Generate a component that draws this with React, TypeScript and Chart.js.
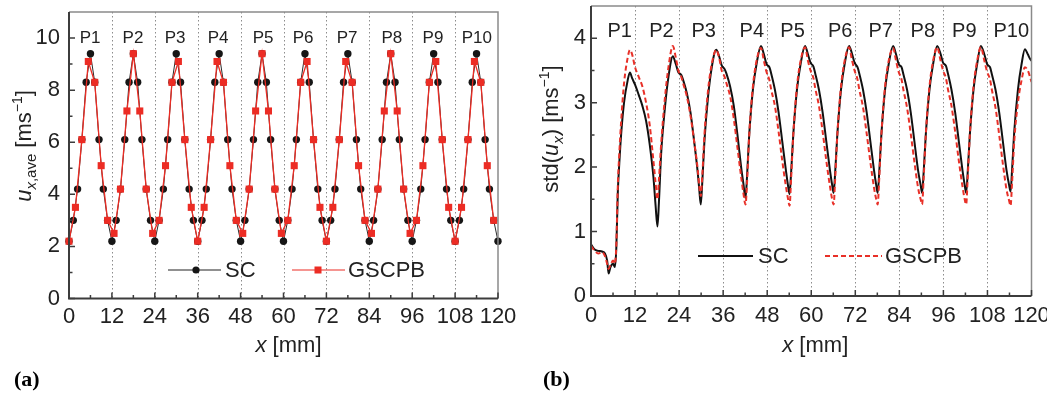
import React, { useEffect, useRef } from "react";
import { Chart, registerables } from "chart.js";
Chart.register(...registerables);

const FONT = '"Liberation Sans", Arial, Helvetica, sans-serif';
const SERIF = '"Liberation Serif", "Times New Roman", serif';
const RED = "rgb(236,44,36)";

// ---------- shared axis data ----------
const xTicks = [0, 12, 24, 36, 48, 60, 72, 84, 96, 108, 120];
const xMinorTicks = [6, 18, 30, 42, 54, 66, 78, 90, 102, 114];
const dividers = [12, 24, 36, 48, 60, 72, 84, 96, 108];
const peakLabels = ["P1", "P2", "P3", "P4", "P5", "P6", "P7", "P8", "P9", "P10"];

// ---------- panel (a) ----------
const yTicksA = [0, 2, 4, 6, 8, 10];
const yMinorA = [1, 3, 5, 7, 9];
const peakXA = [5.9, 17.9, 29.7, 41.7, 54.3, 65.5, 77.8, 90.3, 101.8, 114.1];
const peakYA = 10;

const scXA = [
  0, 1.2, 2.4, 3.6, 4.8, 6, 7.2, 8.4, 9.6, 10.8, 12, 13.2, 14.4, 15.6, 16.8, 18, 19.2, 20.4, 21.6, 22.8,
  24, 25.2, 26.4, 27.6, 28.8, 30, 31.2, 32.4, 33.6, 34.8, 36, 37.2, 38.4, 39.6, 40.8, 42, 43.2, 44.4, 45.6, 46.8,
  48, 49.2, 50.4, 51.6, 52.8, 54, 55.2, 56.4, 57.6, 58.8, 60, 61.2, 62.4, 63.6, 64.8, 66, 67.2, 68.4, 69.6, 70.8,
  72, 73.2, 74.4, 75.6, 76.8, 78, 79.2, 80.4, 81.6, 82.8, 84, 85.2, 86.4, 87.6, 88.8, 90, 91.2, 92.4, 93.6, 94.8,
  96, 97.2, 98.4, 99.6, 100.8, 102, 103.2, 104.4, 105.6, 106.8, 108, 109.2, 110.4, 111.6, 112.8, 114, 115.2, 116.4, 117.6, 118.8,
  120,
];
const scYA = [
  2.2, 3.0, 4.2, 6.1, 8.3, 9.4, 8.3, 6.1, 4.2, 3.0, 2.2, 3.0, 4.2, 6.1, 8.3, 9.4, 8.3, 6.1, 4.2, 3.0,
  2.2, 3.0, 4.2, 6.1, 8.3, 9.4, 8.3, 6.1, 4.2, 3.0, 2.2, 3.0, 4.2, 6.1, 8.3, 9.4, 8.3, 6.1, 4.2, 3.0,
  2.2, 3.0, 4.2, 6.1, 8.3, 9.4, 8.3, 6.1, 4.2, 3.0, 2.2, 3.0, 4.2, 6.1, 8.3, 9.4, 8.3, 6.1, 4.2, 3.0,
  2.2, 3.0, 4.2, 6.1, 8.3, 9.4, 8.3, 6.1, 4.2, 3.0, 2.2, 3.0, 4.2, 6.1, 8.3, 9.4, 8.3, 6.1, 4.2, 3.0,
  2.2, 3.0, 4.2, 6.1, 8.3, 9.4, 8.3, 6.1, 4.2, 3.0, 2.2, 3.0, 4.2, 6.1, 8.3, 9.4, 8.3, 6.1, 4.2, 3.0,
  2.2,
];
const gsXA = [
  0, 1.8, 3.6, 5.4, 7.2, 9, 10.8, 12.6, 14.4, 16.2, 18, 19.8, 21.6, 23.4, 25.2, 27, 28.8, 30.6, 32.4, 34.2,
  36, 37.8, 39.6, 41.4, 43.2, 45, 46.8, 48.6, 50.4, 52.2, 54, 55.8, 57.6, 59.4, 61.2, 63, 64.8, 66.6, 68.4, 70.2,
  72, 73.8, 75.6, 77.4, 79.2, 81, 82.8, 84.6, 86.4, 88.2, 90, 91.8, 93.6, 95.4, 97.2, 99, 100.8, 102.6, 104.4, 106.2,
  108, 109.8, 111.6, 113.4, 115.2, 117, 118.8,
];
const gsYA = [
  2.2, 3.5, 6.1, 9.1, 8.3, 5.1, 3.0, 2.5, 4.2, 7.2, 9.4, 7.2, 4.2, 2.5, 3.0, 5.1, 8.3, 9.1, 6.1, 3.5,
  2.2, 3.5, 6.1, 9.1, 8.3, 5.1, 3.0, 2.5, 4.2, 7.2, 9.4, 7.2, 4.2, 2.5, 3.0, 5.1, 8.3, 9.1, 6.1, 3.5,
  2.2, 3.5, 6.1, 9.1, 8.3, 5.1, 3.0, 2.5, 4.2, 7.2, 9.4, 7.2, 4.2, 2.5, 3.0, 5.1, 8.3, 9.1, 6.1, 3.5,
  2.2, 3.5, 6.1, 9.1, 8.3, 5.1, 3.0,
];

// ---------- panel (b) ----------
const yTicksB = [0, 1, 2, 3, 4];
const yMinorB = [0.5, 1.5, 2.5, 3.5];
const peakXB = [7.8, 19.2, 30.7, 43.8, 54.9, 67.9, 78.9, 90.4, 101.7, 114.5];
const peakYB = 4.1;

const xB = [
  0, 1, 2, 3, 3.8, 4.4, 4.8, 5.3, 6, 6.5, 6.9, 7.3, 7.7, 8.2, 9, 10, 10.6, 11.2, 12, 13, 14, 15, 16, 17, 17.6, 18.1,
  18.5, 19.1, 20.1, 21.1, 22.3, 23.1, 23.8, 24.6, 25.1, 26.1, 27.1, 28.1, 29.1, 29.5, 29.9,
  30.3, 30.9, 31.9, 32.9, 34.1, 34.9, 35.6, 36.4, 36.9, 37.9, 38.9, 39.9, 40.9, 41.5, 42.1,
  42.5, 43.1, 44.1, 45.1, 46.3, 47.1, 47.8, 48.6, 49.1, 50.1, 51.1, 52.1, 53.1, 53.7, 54.1,
  54.5, 55.1, 56.1, 57.1, 58.3, 59.1, 59.8, 60.6, 61.1, 62.1, 63.1, 64.1, 65.1, 65.7, 66.1,
  66.5, 67.1, 68.1, 69.1, 70.3, 71.1, 71.8, 72.6, 73.1, 74.1, 75.1, 76.1, 77.1, 77.7, 78.1,
  78.5, 79.1, 80.1, 81.1, 82.3, 83.1, 83.8, 84.6, 85.1, 86.1, 87.1, 88.1, 89.1, 89.8, 90.2,
  90.6, 91.2, 92.2, 93.2, 94.3, 95.2, 95.9, 96.7, 97.2, 98.2, 99.2, 100.2, 101.2, 101.8, 102.2,
  102.6, 103.2, 104.2, 105.2, 106.2, 107.2, 107.9, 108.7, 109.2, 110.2, 111.2, 112.2, 113.2, 113.9, 114.3,
  114.7, 115.3, 116.3, 117.3, 118.2, 119.0, 119.6, 120,
];
const scB = [
  0.8, 0.72, 0.7, 0.69, 0.66, 0.55, 0.35, 0.45, 0.5, 0.45, 0.75, 1.6, 2.05, 2.5, 3.0, 3.35, 3.47, 3.38, 3.28, 3.12, 2.95, 2.72, 2.35, 1.85, 1.4, 1.08,
  1.45, 2.2, 2.9, 3.4, 3.72, 3.6, 3.47, 3.43, 3.35, 3.15, 2.85, 2.4, 1.9, 1.65, 1.42,
  1.75, 2.4, 3.1, 3.55, 3.82, 3.72, 3.58, 3.52, 3.45, 3.25, 2.95, 2.5, 2.0, 1.75, 1.52,
  1.85, 2.5, 3.2, 3.6, 3.88, 3.75, 3.6, 3.55, 3.45, 3.2, 2.85, 2.4, 1.95, 1.7, 1.58,
  1.9, 2.5, 3.2, 3.6, 3.88, 3.75, 3.62, 3.56, 3.45, 3.2, 2.85, 2.4, 1.95, 1.72, 1.6,
  1.9, 2.5, 3.2, 3.6, 3.88, 3.76, 3.62, 3.55, 3.45, 3.2, 2.85, 2.4, 1.95, 1.72, 1.6,
  1.9, 2.5, 3.2, 3.6, 3.88, 3.75, 3.6, 3.55, 3.44, 3.2, 2.85, 2.4, 1.95, 1.72, 1.6,
  1.9, 2.5, 3.2, 3.6, 3.88, 3.76, 3.62, 3.57, 3.46, 3.2, 2.85, 2.4, 1.95, 1.72, 1.6,
  1.9, 2.5, 3.2, 3.6, 3.88, 3.74, 3.6, 3.55, 3.44, 3.2, 2.85, 2.4, 1.95, 1.72, 1.62,
  1.95, 2.55, 3.2, 3.6, 3.83, 3.75, 3.68, 3.65,
];
const gsB = [
  0.78, 0.7, 0.66, 0.68, 0.62, 0.5, 0.42, 0.48, 0.55, 0.5, 0.8, 1.7, 2.2, 2.7, 3.3, 3.7, 3.82, 3.75, 3.55, 3.4, 3.25, 3.0, 2.65, 2.1, 1.75, 1.5,
  1.8, 2.35, 3.05, 3.55, 3.88, 3.7, 3.5, 3.4, 3.3, 3.1, 2.8, 2.4, 1.95, 1.7, 1.55,
  1.85, 2.5, 3.2, 3.6, 3.82, 3.7, 3.5, 3.4, 3.3, 3.1, 2.75, 2.3, 1.85, 1.6, 1.42,
  1.75, 2.5, 3.25, 3.65, 3.85, 3.65, 3.48, 3.35, 3.2, 2.95, 2.55, 2.1, 1.7, 1.5, 1.4,
  1.8, 2.5, 3.25, 3.65, 3.86, 3.65, 3.5, 3.38, 3.22, 2.95, 2.55, 2.1, 1.7, 1.5, 1.42,
  1.8, 2.5, 3.25, 3.65, 3.86, 3.66, 3.5, 3.36, 3.2, 2.93, 2.52, 2.08, 1.68, 1.5, 1.42,
  1.8, 2.5, 3.25, 3.65, 3.85, 3.65, 3.48, 3.36, 3.2, 2.92, 2.52, 2.08, 1.68, 1.5, 1.42,
  1.8, 2.5, 3.25, 3.65, 3.86, 3.66, 3.5, 3.38, 3.22, 2.95, 2.55, 2.1, 1.7, 1.5, 1.42,
  1.8, 2.5, 3.25, 3.65, 3.86, 3.64, 3.48, 3.36, 3.2, 2.92, 2.5, 2.05, 1.65, 1.48, 1.4,
  1.75, 2.4, 3.0, 3.35, 3.55, 3.5, 3.4, 3.32,
];

type Seg = { t: string; size: number; italic?: boolean; shift?: number };

function segsWidth(ctx: CanvasRenderingContext2D, segs: Seg[]) {
  let w = 0;
  for (const s of segs) {
    ctx.font = `${s.italic ? "italic " : ""}${s.size}px ${FONT}`;
    w += ctx.measureText(s.t).width;
  }
  return w;
}
function drawSegs(ctx: CanvasRenderingContext2D, segs: Seg[], x: number, y: number) {
  let cx = x;
  ctx.textBaseline = "alphabetic";
  ctx.textAlign = "left";
  for (const s of segs) {
    ctx.font = `${s.italic ? "italic " : ""}${s.size}px ${FONT}`;
    ctx.fillText(s.t, cx, y + (s.shift || 0));
    cx += ctx.measureText(s.t).width;
  }
}

type Spec = {
  key: string;
  yTicks: number[];
  yMinor: number[];
  peakX: number[];
  peakY: number;
  peakFont: number;
  yTitle: Seg[];
  yTitleX: number;
  yTitleY: number;
  xTitleDX: number;
  xTitleDY: number;
  panel: string;
  panelX: number;
  legend: (ctx: CanvasRenderingContext2D, ca: any) => void;
};

function makePlugin(spec: Spec) {
  return {
    id: "decor" + spec.key,
    beforeDatasetsDraw(chart: any) {
      const { ctx, chartArea: ca, scales } = chart;
      ctx.save();
      ctx.strokeStyle = "#8c8c8c";
      ctx.lineWidth = 1;
      ctx.setLineDash([1.5, 2.5]);
      for (const d of dividers) {
        const px = Math.round(scales.x.getPixelForValue(d)) + 0.5;
        ctx.beginPath();
        ctx.moveTo(px, ca.top);
        ctx.lineTo(px, ca.bottom);
        ctx.stroke();
      }
      ctx.restore();
    },
    afterDatasetsDraw(chart: any) {
      const { ctx, chartArea: ca, scales } = chart;
      const xs = scales.x, ys = scales.y;
      ctx.save();
      ctx.strokeStyle = "#8a8a8a";
      ctx.lineWidth = 1.5;
      ctx.beginPath();
      ctx.moveTo(ca.left, ca.top);
      ctx.lineTo(ca.right, ca.top);
      ctx.lineTo(ca.right, ca.bottom);
      ctx.stroke();
      ctx.strokeStyle = "#3c3c3c";
      ctx.lineWidth = 2;
      ctx.beginPath();
      ctx.moveTo(ca.left, ca.top);
      ctx.lineTo(ca.left, ca.bottom);
      ctx.lineTo(ca.right, ca.bottom);
      ctx.stroke();
      ctx.lineWidth = 1.5;
      ctx.beginPath();
      for (const v of spec.yTicks) {
        const py = ys.getPixelForValue(v);
        ctx.moveTo(ca.left, py);
        ctx.lineTo(ca.left + 6, py);
      }
      for (const v of spec.yMinor) {
        const py = ys.getPixelForValue(v);
        ctx.moveTo(ca.left, py);
        ctx.lineTo(ca.left + 3.5, py);
      }
      for (const v of xTicks) {
        const px = xs.getPixelForValue(v);
        ctx.moveTo(px, ca.bottom);
        ctx.lineTo(px, ca.bottom - 6);
      }
      for (const v of xMinorTicks) {
        const px = xs.getPixelForValue(v);
        ctx.moveTo(px, ca.bottom);
        ctx.lineTo(px, ca.bottom - 3.5);
      }
      ctx.stroke();
      ctx.fillStyle = "#222";
      ctx.font = `${spec.peakFont}px ${FONT}`;
      ctx.textAlign = "center";
      ctx.textBaseline = "middle";
      spec.peakX.forEach((v, i) => {
        ctx.fillText(peakLabels[i], xs.getPixelForValue(v), ys.getPixelForValue(spec.peakY));
      });
      spec.legend(ctx, ca);
      ctx.fillStyle = "#222";
      const xt: Seg[] = [
        { t: "x", size: 22, italic: true },
        { t: " [mm]", size: 22 },
      ];
      const xw = segsWidth(ctx, xt);
      drawSegs(ctx, xt, (ca.left + ca.right) / 2 + spec.xTitleDX - xw / 2, ca.bottom + spec.xTitleDY);
      const yw = segsWidth(ctx, spec.yTitle);
      ctx.save();
      ctx.translate(ca.left - spec.yTitleX, spec.yTitleY);
      ctx.rotate(-Math.PI / 2);
      drawSegs(ctx, spec.yTitle, -yw / 2, 0);
      ctx.restore();
      ctx.fillStyle = "#000";
      ctx.font = `bold 22px ${SERIF}`;
      ctx.textAlign = "left";
      ctx.textBaseline = "alphabetic";
      ctx.fillText(spec.panel, spec.panelX, 386);
      ctx.restore();
    },
  };
}

function axisFont() {
  return { family: FONT, size: 22 };
}

function buildConfig(opts: {
  datasets: any[];
  yMax: number;
  yTicks: number[];
  padTop: number;
  padRight: number;
  yWidth: number;
  xHeight: number;
  yPad: number;
  xPad: number;
  plugin: any;
}) {
  return {
    type: "line",
    data: { datasets: opts.datasets },
    options: {
      responsive: false,
      animation: false,
      events: [],
      layout: { padding: { top: opts.padTop, right: opts.padRight, left: 0, bottom: 0 } },
      plugins: { legend: { display: false }, tooltip: { enabled: false } },
      scales: {
        x: {
          type: "linear",
          min: 0,
          max: 120,
          grid: { display: false, drawTicks: false },
          border: { display: false },
          afterBuildTicks: (s: any) => {
            s.ticks = xTicks.map((v) => ({ value: v }));
          },
          afterFit: (s: any) => {
            s.height = opts.xHeight;
            s.paddingLeft = 0;
            s.paddingRight = 0;
          },
          ticks: {
            autoSkip: false,
            maxRotation: 0,
            minRotation: 0,
            padding: opts.xPad,
            color: "#222",
            font: axisFont(),
            callback: (v: any) => String(v),
          },
        },
        y: {
          type: "linear",
          min: 0,
          max: opts.yMax,
          grid: { display: false, drawTicks: false },
          border: { display: false },
          afterBuildTicks: (s: any) => {
            s.ticks = opts.yTicks.map((v) => ({ value: v }));
          },
          afterFit: (s: any) => {
            s.width = opts.yWidth;
            s.paddingTop = 0;
            s.paddingBottom = 0;
          },
          ticks: {
            padding: opts.yPad,
            color: "#222",
            font: axisFont(),
            callback: (v: any) => String(v),
          },
        },
      },
    },
    plugins: [opts.plugin],
  };
}

function toPts(xs: number[], ys: number[]) {
  return xs.map((x, i) => ({ x, y: ys[i] }));
}

export default function App() {
  const refA = useRef<HTMLCanvasElement>(null);
  const refB = useRef<HTMLCanvasElement>(null);

  useEffect(() => {
    const specA: Spec = {
      key: "A",
      yTicks: yTicksA,
      yMinor: yMinorA,
      peakX: peakXA,
      peakY: peakYA,
      peakFont: 17,
      yTitle: [
        { t: "u", size: 22, italic: true },
        { t: "x", size: 15, italic: true, shift: 5 },
        { t: ",ave", size: 15, shift: 5 },
        { t: " [ms", size: 22 },
        { t: "\u22121", size: 14, shift: -9 },
        { t: "]", size: 22 },
      ],
      yTitleX: 38,
      yTitleY: 146,
      xTitleDX: 5,
      xTitleDY: 53.5,
      panel: "(a)",
      panelX: 14,
      legend: (ctx, ca) => {
        const y = ca.top + 258;
        ctx.strokeStyle = "#222";
        ctx.lineWidth = 1.2;
        ctx.beginPath();
        ctx.moveTo(ca.left + 99, y);
        ctx.lineTo(ca.left + 152, y);
        ctx.stroke();
        ctx.fillStyle = "#161616";
        ctx.beginPath();
        ctx.arc(ca.left + 127, y, 3.6, 0, Math.PI * 2);
        ctx.fill();
        ctx.strokeStyle = RED;
        ctx.beginPath();
        ctx.moveTo(ca.left + 223, y);
        ctx.lineTo(ca.left + 276, y);
        ctx.stroke();
        ctx.fillStyle = RED;
        ctx.fillRect(ca.left + 249 - 3.5, y - 3.5, 7, 7);
        ctx.fillStyle = "#222";
        ctx.font = `22px ${FONT}`;
        ctx.textAlign = "left";
        ctx.textBaseline = "middle";
        ctx.fillText("SC", ca.left + 156, y + 1);
        ctx.fillText("GSCPB", ca.left + 279, y + 1);
      },
    };
    const specB: Spec = {
      key: "B",
      yTicks: yTicksB,
      yMinor: yMinorB,
      peakX: peakXB,
      peakY: peakYB,
      peakFont: 20,
      yTitle: [
        { t: "std(", size: 22 },
        { t: "u", size: 22, italic: true },
        { t: "x", size: 15, italic: true, shift: 5 },
        { t: ") [ms", size: 22 },
        { t: "\u22121", size: 14, shift: -9 },
        { t: "]", size: 22 },
      ],
      yTitleX: 33,
      yTitleY: 129,
      xTitleDX: 4,
      xTitleDY: 56,
      panel: "(b)",
      panelX: 23,
      legend: (ctx, ca) => {
        const y = ca.top + 250;
        ctx.lineWidth = 2;
        ctx.strokeStyle = "#111";
        ctx.beginPath();
        ctx.moveTo(ca.left + 107, y);
        ctx.lineTo(ca.left + 162, y);
        ctx.stroke();
        ctx.strokeStyle = "rgb(232,48,40)";
        ctx.setLineDash([5, 3]);
        ctx.beginPath();
        ctx.moveTo(ca.left + 234, y);
        ctx.lineTo(ca.left + 291, y);
        ctx.stroke();
        ctx.setLineDash([]);
        ctx.fillStyle = "#222";
        ctx.font = `22px ${FONT}`;
        ctx.textAlign = "left";
        ctx.textBaseline = "middle";
        ctx.fillText("SC", ca.left + 167, y + 1);
        ctx.fillText("GSCPB", ca.left + 294, y + 1);
      },
    };

    const chartA = new Chart(
      refA.current as HTMLCanvasElement,
      buildConfig({
        datasets: [
          {
            label: "SC",
            data: toPts(scXA, scYA),
            borderColor: "#2a2a2a",
            borderWidth: 1,
            pointStyle: "circle",
            pointRadius: 3.7,
            pointBackgroundColor: "#161616",
            pointBorderColor: "#161616",
            pointBorderWidth: 0,
            clip: false,
            order: 2,
          },
          {
            label: "GSCPB",
            data: toPts(gsXA, gsYA),
            borderColor: RED,
            borderWidth: 1.3,
            pointStyle: "rect",
            pointRadius: 5,
            pointBackgroundColor: RED,
            pointBorderColor: RED,
            pointBorderWidth: 0,
            clip: false,
            order: 1,
          },
        ],
        yMax: 11,
        yTicks: yTicksA,
        padTop: 12,
        padRight: 22,
        yWidth: 69,
        xHeight: 97.5,
        yPad: 9,
        xPad: 5,
        plugin: makePlugin(specA),
      }) as any
    );

    const chartB = new Chart(
      refB.current as HTMLCanvasElement,
      buildConfig({
        datasets: [
          {
            label: "SC",
            data: toPts(xB, scB),
            borderColor: "#111",
            borderWidth: 2,
            pointRadius: 0,
            cubicInterpolationMode: "monotone",
            order: 2,
          },
          {
            label: "GSCPB",
            data: toPts(xB, gsB),
            borderColor: "rgb(232,48,40)",
            borderWidth: 2,
            borderDash: [5, 3],
            pointRadius: 0,
            cubicInterpolationMode: "monotone",
            order: 1,
          },
        ],
        yMax: 4.5,
        yTicks: yTicksB,
        padTop: 6,
        padRight: 15.5,
        yWidth: 71,
        xHeight: 100,
        yPad: 5,
        xPad: 7,
        plugin: makePlugin(specB),
      }) as any
    );

    return () => {
      chartA.destroy();
      chartB.destroy();
    };
  }, []);

  return (
    <div style={{ position: "absolute", left: 0, top: 0, width: 1047, height: 396, background: "#fff" }}>
      <canvas ref={refA} width={520} height={396} style={{ position: "absolute", left: 0, top: 0 }} />
      <canvas ref={refB} width={527} height={396} style={{ position: "absolute", left: 520, top: 0 }} />
    </div>
  );
}
